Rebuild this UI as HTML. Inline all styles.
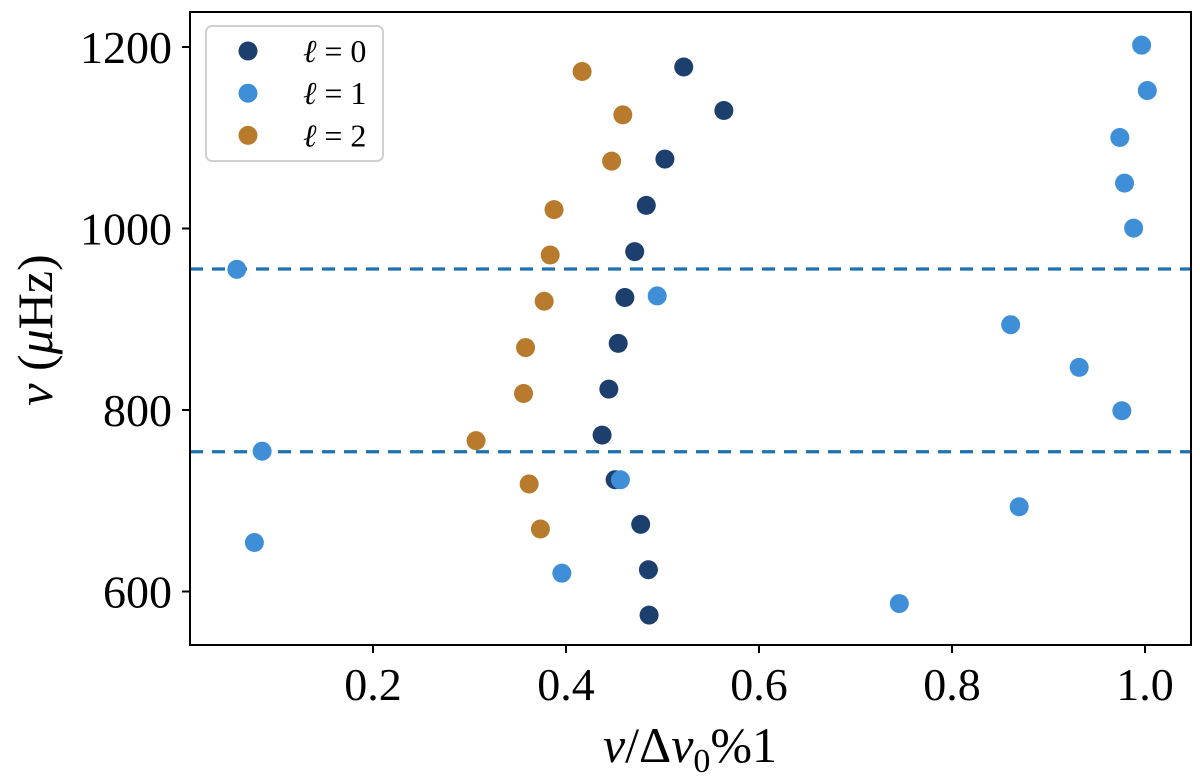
<!DOCTYPE html>
<html><head><meta charset="utf-8"><style>
body{margin:0;background:#fff;width:1200px;height:781px;overflow:hidden}
svg{display:block}
text{font-family:"Liberation Serif","DejaVu Serif",serif;fill:#000}
</style></head><body>
<svg id="chart" width="1200" height="781"></svg>
<script>
const l0x=[0.522,0.5636,0.5025,0.4832,0.4712,0.461,0.4541,0.4444,0.4374,0.4509,0.4774,0.4854,0.4861];
const l0y=[1178,1130,1076.5,1025.5,974.5,924,873.4,823,772.3,723.2,674,624,574];
const l1x=[0.0589,0.0851,0.0771,0.3957,0.4564,0.4945,0.9965,1.0024,0.9739,0.9788,0.9882,0.8608,0.9318,0.976,0.8696,0.7454];
const l1y=[955,754.6,654,620.2,723.1,925.7,1202,1152,1100.3,1050,1000.4,894,847,799.2,693.4,586.7];
const l2x=[0.4167,0.4589,0.4473,0.3876,0.3836,0.3774,0.3581,0.356,0.3068,0.3618,0.3735];
const l2y=[1173,1125.2,1074.2,1020.8,970.8,919.8,868.8,818.2,766.2,718.5,668.9];
const hlines=[955.4,754];
const xticks=[0.2,0.4,0.6,0.8,1.0];
const xtickLabels=["0.2","0.4","0.6","0.8","1.0"];
const yticks=[600,800,1000,1200];
const ytickLabels=["600","800","1000","1200"];
const legendLabels=["0","1","2"];

const NS="http://www.w3.org/2000/svg";
const svg=document.getElementById('chart');
const L=190,R=1191,T=12,B=645;
const xs=v=>180+v*965;
const ys=v=>47+(1200-v)*0.9075;
function mk(tag,attrs,parent){const e=document.createElementNS(NS,tag);for(const k in attrs)e.setAttribute(k,attrs[k]);(parent||svg).appendChild(e);return e;}

// dashed lines
hlines.forEach(h=>{
  const ln=mk('line',{x1:L,x2:R,y1:ys(h),y2:ys(h),stroke:'#1f72b0','stroke-width':3.2,'stroke-dasharray':'13 9'});
  
  
});
const series=[[l0x,l0y,'#1d3f6e','l0'],[l1x,l1y,'#3f8fd8','l1'],[l2x,l2y,'#b87a2c','l2']];
series.forEach(([X,Y,c,n])=>{
  X.forEach((x,i)=>{
    const p=mk('circle',{cx:xs(x),cy:ys(Y[i]),r:9.5,fill:c});
    
    
  });
});
// axes frame
const fr=mk('rect',{x:L,y:T,width:R-L,height:B-T,fill:'none',stroke:'#000','stroke-width':2});


xticks.forEach((t,i)=>{
  mk('line',{x1:xs(t),x2:xs(t),y1:B,y2:B+8,stroke:'#000','stroke-width':2});
  const tx=mk('text',{x:xs(t),y:700,'text-anchor':'middle','font-size':46});
  tx.textContent=xtickLabels[i];
  
  
});
yticks.forEach((t,i)=>{
  mk('line',{x1:L-8,x2:L,y1:ys(t),y2:ys(t),stroke:'#000','stroke-width':2});
  const tx=mk('text',{x:172,y:ys(t)+16,'text-anchor':'end','font-size':46});
  tx.textContent=ytickLabels[i];
  
  
});
// legend
const lg=mk('rect',{x:206,y:26,width:177,height:135,rx:6,fill:'#fff','fill-opacity':0.85,stroke:'#d0d0d0','stroke-width':2});


series.forEach(([X,Y,c,n],i)=>{
  const yy=51+i*42.2;
  const m=mk('circle',{cx:248,cy:yy,r:9.5,fill:c});
  
  
  const t=mk('text',{x:303,y:yy+11,'font-size':32});
  t.innerHTML='<tspan font-style="italic">ℓ</tspan> = '+legendLabels[i];
  
  
});
// axis titles
const xt=mk('text',{x:690,y:762,'text-anchor':'middle','font-size':50});
xt.innerHTML='<tspan font-style="italic">ν</tspan>/Δ<tspan font-style="italic">ν</tspan><tspan font-size="34" dy="10">0</tspan><tspan dy="-10">%1</tspan>';


const yt=mk('text',{x:0,y:0,'text-anchor':'middle','font-size':50,transform:'translate(52,330) rotate(-90)'});
yt.innerHTML='<tspan font-style="italic">ν</tspan>  (<tspan font-style="italic">μ</tspan>Hz)';


</script>
</body></html>
